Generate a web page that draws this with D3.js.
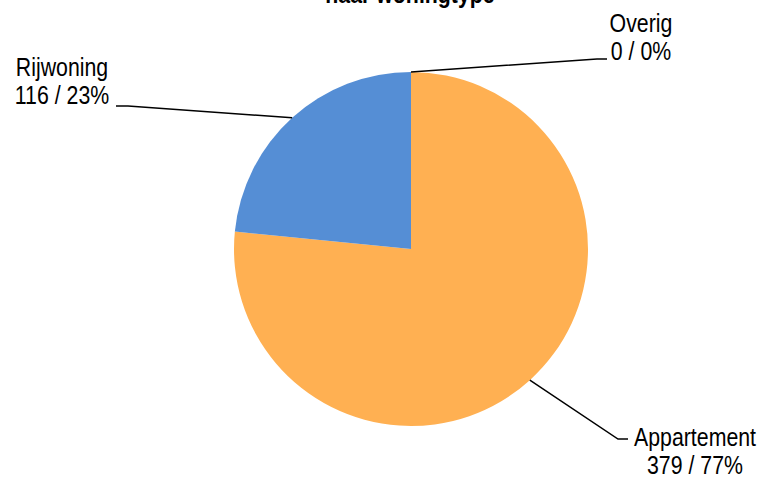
<!DOCTYPE html>
<html>
    <head>
        <meta charset="utf-8">
        <title>Woningtype</title>
        <script src="https://cdn.jsdelivr.net/npm/d3@7"></script>
        <style>
            body { margin: 0; background: #fff; }
            text { font-family: "Liberation Sans", Arial, sans-serif; fill: #000; }
        </style>
    </head>
    <body>
        <script type="text/javascript">

            // Data
            var categories = ["Appartement", "Rijwoning", "Overig"];
            var counts = [379, 116, 0];
            var colours = ["#FFB052", "#558ED5", "#A5A5A5"];
            var title = "naar woningtype";

            // Size of the canvas and the pie
            var svg_width = 762;
            var svg_height = 479;
            var cx = 411;
            var cy = 249;
            var radius = 177;

            // The chart uses a narrow font, so text is squeezed horizontally
            var font_size = 26;
            var narrow = 0.82;

            // Where each label goes: text centre, first baseline, elbow of leader line and end of line
            var label_pos = [
                { x: 695, y: 446, elbow: [618, 439], end: [628, 439] },
                { x: 62, y: 76, elbow: [128, 106], end: [116, 106] },
                { x: 641, y: 32, elbow: [597, 59], end: [607, 59] }
            ];
            var line_height = 28;

            var total = d3.sum(counts);

            var svg = d3.select("body")
                        .append("svg")
                        .attr("width", svg_width)
                        .attr("height", svg_height);

            // Title (only the bottom line is in view, like the original)
            svg.append("text")
                .attr("transform", "translate(410,3) scale(" + narrow + ",1)")
                .attr("text-anchor", "middle")
                .style("font-size", font_size + "px")
                .style("font-weight", "bold")
                .text(title);

            var pie = d3.pie().sort(null).value(function(d) { return d; });
            var arcs = pie(counts);

            var arc = d3.arc().innerRadius(0).outerRadius(radius);
            var edge = d3.arc().innerRadius(radius).outerRadius(radius);

            var g = svg.append("g")
                        .attr("transform", "translate(" + cx + "," + cy + ")");

            // Slices
            g.selectAll("path.slice")
                .data(arcs)
                .enter()
                .append("path")
                .attr("class", "slice")
                .attr("d", arc)
                .attr("fill", function(d, i) { return colours[i]; });

            // Leader lines from the middle of each slice edge to the label
            g.selectAll("polyline")
                .data(arcs)
                .enter()
                .append("polyline")
                .attr("fill", "none")
                .attr("stroke", "#000")
                .attr("stroke-width", 1.5)
                .attr("points", function(d, i) {
                    var p = edge.centroid(d);
                    var lp = label_pos[i];
                    return [p, [lp.elbow[0] - cx, lp.elbow[1] - cy], [lp.end[0] - cx, lp.end[1] - cy]]
                        .map(function(q) { return q.join(","); }).join(" ");
                });

            // Labels: name on the first line, count / percent on the second
            var labels = svg.selectAll("text.label")
                            .data(arcs)
                            .enter()
                            .append("text")
                            .attr("class", "label")
                            .attr("transform", function(d, i) {
                                return "translate(" + label_pos[i].x + "," + label_pos[i].y + ") scale(" + narrow + ",1)";
                            })
                            .attr("text-anchor", "middle")
                            .style("font-size", font_size + "px");

            labels.append("tspan")
                .attr("x", 0)
                .attr("y", 0)
                .text(function(d, i) { return categories[i]; });

            labels.append("tspan")
                .attr("x", 0)
                .attr("y", line_height)
                .text(function(d, i) {
                    return counts[i] + " / " + Math.round(counts[i] / total * 100) + "%";
                });

        </script>
    </body>
</html>
